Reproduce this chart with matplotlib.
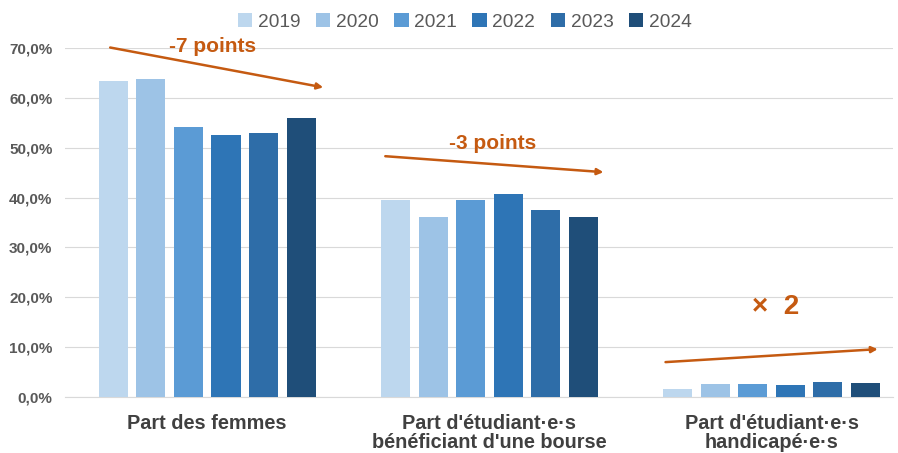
import matplotlib
matplotlib.use("Agg")
import matplotlib.pyplot as plt
import numpy as np
from matplotlib.ticker import FuncFormatter

plt.rcParams['font.family'] = ['Liberation Sans', 'DejaVu Sans']

categories = ["Part des femmes",
              "Part d'étudiant·e·s\nbénéficiant d'une bourse",
              "Part d'étudiant·e·s\nhandicapé·e·s"]
years = ["2019", "2020", "2021", "2022", "2023", "2024"]
v2019 = [63.3, 39.5, 1.6]
v2020 = [63.7, 36.1, 2.6]
v2021 = [54.1, 39.5, 2.6]
v2022 = [52.5, 40.7, 2.4]
v2023 = [52.9, 37.5, 3.0]
v2024 = [55.9, 36.1, 2.8]
series = [v2019, v2020, v2021, v2022, v2023, v2024]
colors = ["#BDD7EE", "#9DC3E6", "#5B9BD5", "#2E75B6", "#2E6DA8", "#1F4E79"]

fig = plt.figure(figsize=(8.98, 4.53), dpi=100)
ax = fig.add_axes([0.0724, 0.1236, 0.922, 0.7704])

x = np.arange(len(categories))
step = 0.133
width = 0.103
for i, (vals, yr, c) in enumerate(zip(series, years, colors)):
    ax.bar(x + (i - 2.5) * step, vals, width, color=c, label=yr, zorder=3)

ax.set_ylim(0, 70)
ax.set_xlim(-0.504, 2.43)
ax.set_yticks(np.arange(0, 71, 10))
ax.yaxis.set_major_formatter(FuncFormatter(lambda v, p: f"{v:.1f}%".replace(".", ",")))
ax.grid(axis='y', color='#D9D9D9', linewidth=0.8, zorder=0)
for s in ['top', 'right', 'left']:
    ax.spines[s].set_visible(False)
ax.spines['bottom'].set_color('#D9D9D9')
ax.tick_params(axis='y', length=0, labelsize=11, labelcolor='#595959', pad=9)
ax.tick_params(axis='x', length=0, labelsize=14.3, labelcolor='#404040', pad=12)
for lab in ax.get_yticklabels():
    lab.set_fontweight('bold')
ax.set_xticks(x)
ax.set_xticklabels(categories, fontweight='bold', va='top', linespacing=1.05)

leg = ax.legend(loc='center', bbox_to_anchor=(0.483, 1.074), ncol=6, frameon=False,
                fontsize=13.8, handlelength=0.75, handleheight=0.75, handletextpad=0.3,
                columnspacing=0.8, labelcolor='#595959')

orange = "#C55A11"
arrows = [((-0.344, 70.1), (0.411, 62.1)),
          ((0.631, 48.3), (1.404, 45.1)),
          ((1.624, 7.0), (2.376, 9.6))]
for (x0, y0), (x1, y1) in arrows:
    ax.annotate("", xy=(x1, y1), xytext=(x0, y0), annotation_clip=False,
                arrowprops=dict(arrowstyle='-|>', color=orange, lw=1.8,
                                mutation_scale=9, shrinkA=0, shrinkB=0), zorder=5)

ax.text(0.018, 70.4, "-7 points", color=orange, fontsize=15, fontweight='bold',
        ha='center', va='center', clip_on=False, zorder=6)
ax.text(1.01, 50.9, "-3 points", color=orange, fontsize=15, fontweight='bold',
        ha='center', va='center', zorder=6)
ax.text(2.014, 18.0, "×  2", color=orange, fontsize=20, fontweight='bold',
        ha='center', va='center', zorder=6)

fig.savefig("out.png", dpi=100)
